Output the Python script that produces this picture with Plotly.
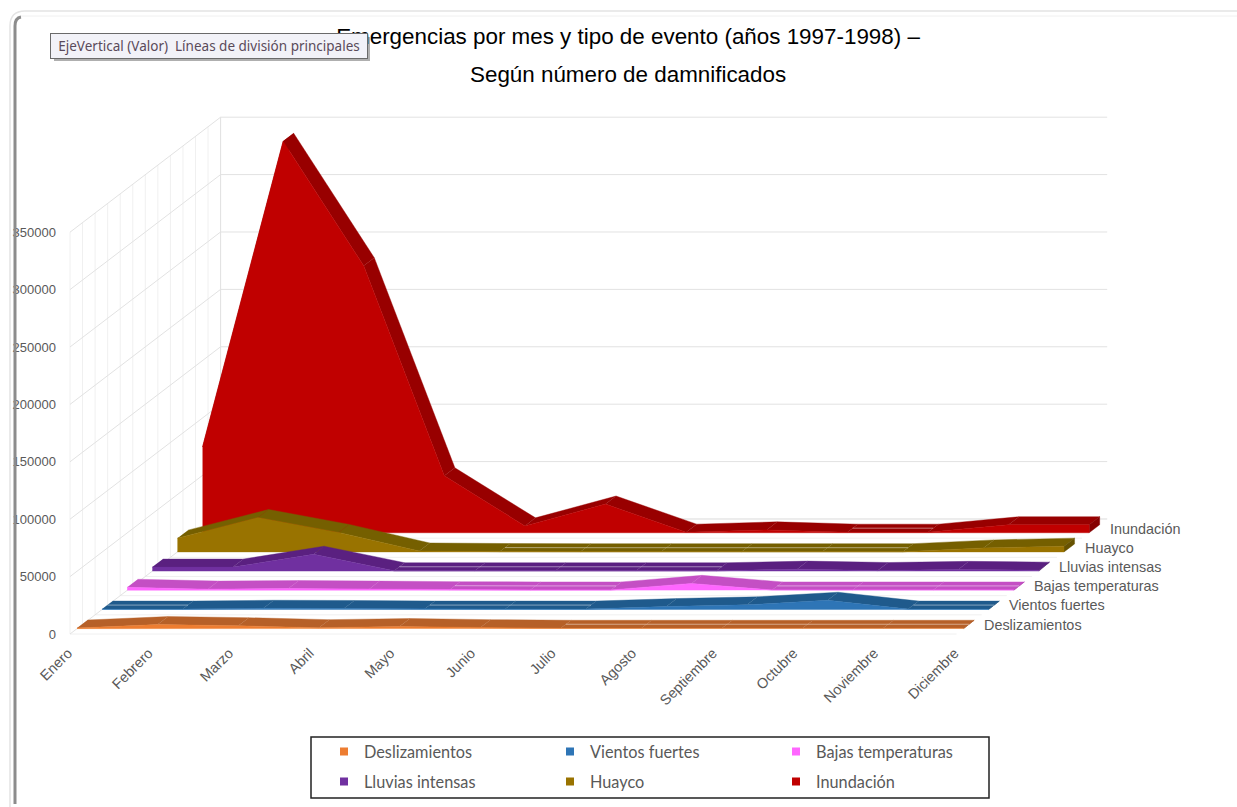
import plotly.graph_objects as go

W, H = 1237, 807

months = ["Enero", "Febrero", "Marzo", "Abril", "Mayo", "Junio", "Julio", "Agosto",
          "Septiembre", "Octubre", "Noviembre", "Diciembre"]
value_ticks = [0, 50000, 100000, 150000, 200000, 250000, 300000, 350000]

deslizamientos = [500, 3500, 2500, 800, 1800, 800, 300, 300, 300, 300, 300, 300]
vientos = [300, 300, 1000, 800, 300, 300, 300, 2500, 4000, 8000, 300, 300]
bajas = [2600, 1000, 1500, 1000, 500, 300, 300, 6000, 300, 300, 300, 300]
lluvias = [3500, 3500, 14700, 300, 300, 300, 300, 300, 1700, 500, 1500, 800]
huayco = [12000, 30000, 17000, 800, 300, 200, 200, 200, 200, 200, 3500, 5000]
inundacion = [74700, 341000, 232600, 49600, 6000, 25000, 500, 2500, 500, 500, 7000, 7000]

names = ["Deslizamientos", "Vientos fuertes", "Bajas temperaturas", "Lluvias intensas", "Huayco", "Inundación"]
series = [deslizamientos, vientos, bajas, lluvias, huayco, inundacion]
front_colors = ["#ED7D31", "#2E75B6", "#FF66FF", "#7030A0", "#997300", "#C00000"]
top_colors = ["#B66028", "#1F5A8C", "#C44FC4", "#5A2080", "#755F00", "#980000"]
side_colors = ["#A85520", "#1A4E7A", "#B040B0", "#4E1A70", "#665200", "#850000"]

# projection of the oblique 3-D view on to the 2-D axes
PX_MONTH = 80.6
PX_VALUE = 57.4 / 50000
ORIGIN_X, ORIGIN_Y = 70, 634
DX = 25.1 / PX_MONTH        # months of shift per unit of depth
DY = 19.17 / PX_VALUE       # value of shift per unit of depth
D_FRONT, D_BACK = 0.28, 0.70
DEPTHS = 6


def px(m, d=0):
    return m + d * DX


def py(v, d=0):
    return v + d * DY


def fx(p):
    return p / W


def fy(p):
    return 1 - p / H


fig = go.Figure()
GRID = "#E2E2E2"
GRID_SOFT = "#F0F0F0"
last = len(months) - 1
top = value_ticks[-1]


def line(xs, ys, color, width=1):
    fig.add_trace(go.Scatter(x=xs, y=ys, mode="lines", line=dict(color=color, width=width),
                             showlegend=False, hoverinfo="skip"))


# left wall verticals
for k in range(2 * DEPTHS + 1):
    d = k / 2
    line([px(0, d), px(0, d)], [py(0, d), py(top, d)], GRID_SOFT)
# floor lines
for d in range(DEPTHS + 1):
    line([px(0, d), px(last, d)], [py(0, d), py(0, d)], GRID_SOFT)
# wall gridlines
for v in value_ticks:
    line([px(0, 0), px(0, DEPTHS), px(last, DEPTHS)], [py(v, 0), py(v, DEPTHS), py(v, DEPTHS)], GRID)
line([px(0, DEPTHS), px(0, DEPTHS)], [py(0, DEPTHS), py(top, DEPTHS)], GRID)


def poly(xs, ys, color):
    fig.add_trace(go.Scatter(x=xs, y=ys, mode="lines", fill="toself", fillcolor=color,
                             line=dict(width=0.4, color=color), showlegend=False, hoverinfo="skip"))


idx = list(range(len(months)))
for i in range(len(series) - 1, -1, -1):
    vals = series[i]
    df, db = i + D_FRONT, i + D_BACK
    # top ribbon, one quad per month interval
    for m in idx[:-1]:
        poly([px(m, df), px(m + 1, df), px(m + 1, db), px(m, db)],
             [py(vals[m], df), py(vals[m + 1], df), py(vals[m + 1], db), py(vals[m], db)], top_colors[i])
    # right side
    poly([px(last, df), px(last, db), px(last, db), px(last, df)],
         [py(0, df), py(0, db), py(vals[last], db), py(vals[last], df)], side_colors[i])
    # front face
    poly([px(m, df) for m in idx] + [px(last, df), px(0, df)],
         [py(vals[m], df) for m in idx] + [py(0, df), py(0, df)], front_colors[i])
    # pale slit visible along the flat stretches of the ribbon
    dm = (df + db) / 2
    sx, sy = [], []
    for m in idx[:-1]:
        if vals[m] <= 500 and vals[m + 1] <= 500:
            sx += [px(m, dm), px(m + 1, dm), None]
            sy += [py(vals[m], dm), py(vals[m + 1], dm), None]
    if sx:
        line(sx, sy, "rgba(255,255,255,0.45)", 1)

# legend entries: two rows, three columns
for i, name in enumerate(names):
    fig.add_trace(go.Scatter(x=[None], y=[None], mode="markers", name=name,
                             marker=dict(symbol="square", size=8, color=front_colors[i]),
                             legend="legend" if i < 3 else "legend2"))

GRAY = "#595959"
AXFONT = dict(family="Liberation Sans", size=13, color=GRAY)
annotations = []
for i, name in enumerate(names):
    annotations.append(dict(x=px(last, i + D_FRONT) + 18.5 / PX_MONTH, y=py(0, i + D_FRONT) + 4 / PX_VALUE,
                            xref="x", yref="y", text=name, showarrow=False, xanchor="left", yanchor="middle",
                            font=dict(family="Liberation Sans", size=14.4, color=GRAY)))
annotations.append(dict(x=fx(628), y=fy(74), xref="paper", yref="paper", showarrow=False,
                        xanchor="center", yanchor="middle",
                        text="Según número de damnificados",
                        font=dict(family="Liberation Sans", size=22.4, color="#000000")))
annotations.append(dict(x=fx(50), y=fy(33), xref="paper", yref="paper", showarrow=False,
                        xanchor="left", yanchor="top",
                        text="EjeVertical (Valor)  Líneas de división principales",
                        font=dict(family="Noto Sans", size=13.5, color="#5A4A5A"),
                        bgcolor="#F2F2F8", bordercolor="#6A6A6A", borderwidth=1, width=314, height=22))


def legend_at(y):
    return dict(orientation="h", x=fx(324), y=fy(y), xanchor="left", yanchor="middle",
                bgcolor="rgba(0,0,0,0)", borderwidth=0, entrywidth=181, entrywidthmode="pixels",
                itemwidth=30, font=dict(family="Lato", size=16.3, color=GRAY))


shapes = [
    dict(type="rect", xref="paper", yref="paper", x0=fx(311), x1=fx(989), y0=fy(737), y1=fy(798),
         line=dict(color="#222222", width=1.5), fillcolor="white", layer="below"),
    dict(type="rect", xref="paper", yref="paper", x0=fx(54), x1=fx(370), y0=fy(37), y1=fy(61),
         line=dict(width=0), fillcolor="rgba(110,110,110,0.55)"),
    dict(type="path", xref="paper", yref="paper",
         path=f"M {fx(10)} {fy(807)} L {fx(10)} {fy(26)} Q {fx(10)} {fy(11)} {fx(25)} {fy(11)} L {fx(1237)} {fy(11)}",
         line=dict(color="#E4E4E4", width=1.5)),
    dict(type="path", xref="paper", yref="paper",
         path=f"M {fx(15)} {fy(804)} L {fx(15)} {fy(26)} Q {fx(15)} {fy(18)} {fx(21)} {fy(17)}",
         line=dict(color="#8C8C8C", width=3)),
    dict(type="path", xref="paper", yref="paper",
         path=f"M {fx(21)} {fy(16)} L {fx(1237)} {fy(16)} ",
         line=dict(color="#F0F0F0", width=1)),
]

fig.update_layout(
    width=W, height=H, autosize=False,
    margin=dict(l=0, r=0, t=0, b=0),
    paper_bgcolor="white", plot_bgcolor="white",
    title=dict(text="Emergencias por mes y tipo de evento (años 1997-1998) –", x=fx(628), y=fy(36),
               xanchor="center", yanchor="middle", font=dict(family="Liberation Sans", size=22.4, color="#000000")),
    xaxis=dict(range=[(0 - ORIGIN_X) / PX_MONTH, (W - ORIGIN_X) / PX_MONTH], tickmode="array",
               tickvals=idx, ticktext=months, tickangle=-45, showgrid=False, zeroline=False, showline=False,
               ticks="", anchor="free", position=fy(641), ticklabelshift=-2,
               tickfont=dict(family="Liberation Sans", size=14.4, color=GRAY), fixedrange=True),
    yaxis=dict(range=[(ORIGIN_Y - H) / PX_VALUE, ORIGIN_Y / PX_VALUE], tickmode="array",
               tickvals=value_ticks, ticktext=[str(v) for v in value_ticks], showgrid=False, zeroline=False,
               showline=False, ticks="", anchor="free", position=fx(56), tickfont=AXFONT, fixedrange=True),
    legend=legend_at(752),
    legend2=legend_at(782),
    annotations=annotations,
    shapes=shapes,
)

fig.write_html("out.html", config={"displayModeBar": False},
               post_script="document.body.style.margin='0';document.body.style.overflow='hidden';")
